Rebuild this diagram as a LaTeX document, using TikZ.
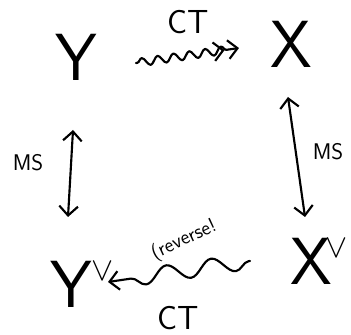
\documentclass[tikz,border=0pt]{standalone}
\usetikzlibrary{decorations.pathmorphing,arrows.meta,calc}
\begin{document}
\begin{tikzpicture}[x=0.75pt,y=-0.75pt,line width=1.6pt,line cap=round,line join=round,
  obj/.style={font=\sffamily\fontsize{50}{52}\selectfont, inner sep=0pt},
  lab/.style={font=\sffamily\fontsize{17}{19}\selectfont, inner sep=0pt},
  ctlab/.style={font=\sffamily\fontsize{25}{27}\selectfont, inner sep=0pt},
  small/.style={font=\sffamily\fontsize{15}{16}\selectfont, inner sep=0pt},
  barb/.tip={Straight Barb[length=7pt,width=14pt]},
  smallwave/.style={decorate, decoration={snake, amplitude=3pt, segment length=12pt, pre length=1pt, post length=9pt}},
  bigwave/.style={decorate, decoration={snake, amplitude=6pt, segment length=34pt, pre length=1pt, post length=10pt}}
]
\newcommand{\dualmark}{\raisebox{20pt}{\fontsize{28}{28}\selectfont$\vee$}}
\useasboundingbox (0,0) rectangle (351,335);
\node[obj] (Y) at (76,57) {Y};
\node[obj] (X) at (291,44) {X};
\node[obj] (Yd) at (82,284) {Y\dualmark};
\node[obj] (Xd) at (319,261) {X\kern-5pt\dualmark};

\node[ctlab] (ct1) at (188,22) {CT};
\node[lab] (ms1) at (28,163) {MS};
\node[lab] (ms2) at (328,152) {MS};
\node[small, rotate=25] (rev) at (184,240) {(reverse!};
\node[ctlab] (ct2) at (178,318) {CT};

\draw[-{barb[sep=2pt] barb}, smallwave] ($(Y)+(60,6)$) -- ($(X)+(-52,4)$);
\draw[{barb}-{barb}] ($(Y)+(-3,73)$) -- ($(Yd)+(-14,-67)$);
\draw[{barb}-{barb}] ($(X)+(-3,53)$) -- ($(Xd)+(-14,-44)$);
\draw[-{barb}, bigwave] ($(Xd)+(-69,0)$) -- ($(Yd)+(26,-2)$);
\end{tikzpicture}
\end{document}
